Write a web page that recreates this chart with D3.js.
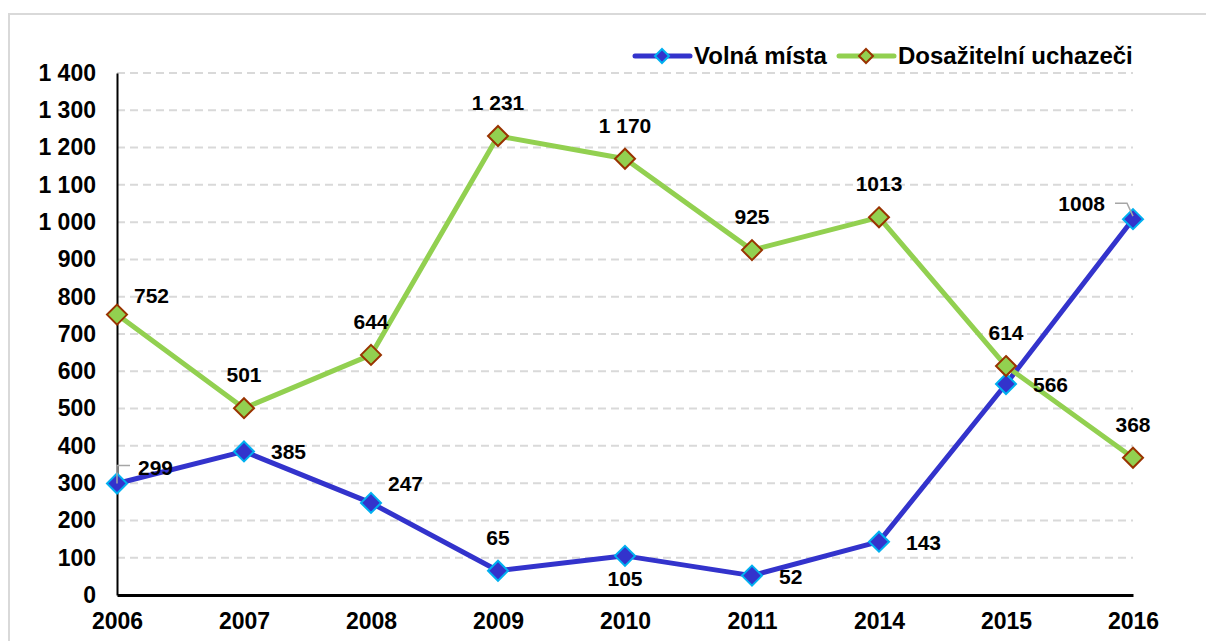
<!DOCTYPE html>
<html>
<head>
<meta charset="utf-8">
<script src="https://cdn.jsdelivr.net/npm/d3@7"></script>
<style>
  html, body { margin: 0; padding: 0; background: #fff; }
  svg { display: block; font-family: "Liberation Sans", Arial, sans-serif; }
</style>
</head>
<body>
<svg id="chart" width="1206" height="641"></svg>
<script>
// ---- data ----
const years = ["2006", "2007", "2008", "2009", "2010", "2011", "2014", "2015", "2016"];
const volnaMista = [299, 385, 247, 65, 105, 52, 143, 566, 1008];
const uchazeci = [752, 501, 644, 1231, 1170, 925, 1013, 614, 368];
const volnaLabels = ["299", "385", "247", "65", "105", "52", "143", "566", "1008"];
const uchazeciLabels = ["752", "501", "644", "1 231", "1 170", "925", "1013", "614", "368"];
const yTicks = [0, 100, 200, 300, 400, 500, 600, 700, 800, 900, 1000, 1100, 1200, 1300, 1400];
const yTickLabels = ["0", "100", "200", "300", "400", "500", "600", "700", "800", "900", "1 000", "1 100", "1 200", "1 300", "1 400"];
const seriesNames = ["Volná místa", "Dosažitelní uchazeči"];

// label placement (style, not data)
const volnaPos = ["leaderRight", "right", "aboveRight", "above", "below", "right", "right", "right", "leaderLeft"];
const uchazeciPos = ["aboveRight", "above", "above", "above", "above", "above", "above", "above", "above"];

(function () {
const svg = d3.select("#chart");
const W = 1206, H = 641;
const mLeft = 117, mRight = 1133, mTop = 73, mBottom = 595;

// outer frame
svg.append("rect").attr("x", 9).attr("y", 14).attr("width", W + 20).attr("height", H + 20)
  .attr("fill", "none").attr("stroke", "#d9d9d9").attr("stroke-width", 2);

const x = d3.scalePoint().domain(years).range([mLeft, mRight]);
const y = d3.scaleLinear().domain([0, 1400]).range([mBottom, mTop]);

// gridlines
svg.append("g").selectAll("line").data(yTicks.filter(d => d > 0)).join("line")
  .attr("x1", mLeft).attr("x2", mRight)
  .attr("y1", d => y(d)).attr("y2", d => y(d))
  .attr("stroke", "#d9d9d9").attr("stroke-width", 2).attr("stroke-dasharray", "8,5");

// y axis
const yAxis = d3.axisLeft(y).tickValues(yTicks).tickFormat((d, i) => yTickLabels[i]).tickSize(0).tickPadding(21);
const gy = svg.append("g").attr("transform", `translate(${mLeft},0)`).call(yAxis);
gy.select(".domain").attr("stroke", "#000").attr("stroke-width", 2);
gy.selectAll("text").attr("font-size", 23).attr("font-weight", "bold").attr("fill", "#000")
  .attr("font-family", "Liberation Sans, Arial, sans-serif");

// x axis
const xAxis = d3.axisBottom(x).tickSize(0).tickPadding(18);
const gx = svg.append("g").attr("transform", `translate(0,${mBottom})`).call(xAxis);
gx.select(".domain").attr("stroke", "#000").attr("stroke-width", 3);
gx.selectAll("text").attr("font-size", 23).attr("font-weight", "bold").attr("fill", "#000")
  .attr("font-family", "Liberation Sans, Arial, sans-serif");

const line = d3.line().x((d, i) => x(years[i])).y(d => y(d));
const diamond = r => `M0,${-r}L${r},0L0,${r}L${-r},0Z`;

function drawSeries(values, color, markerFill, markerStroke) {
  svg.append("path").datum(values).attr("d", line)
    .attr("fill", "none").attr("stroke", color).attr("stroke-width", 5).attr("stroke-linejoin", "round");
  svg.append("g").selectAll("path").data(values).join("path")
    .attr("transform", (d, i) => `translate(${x(years[i])},${y(d)})`)
    .attr("d", diamond(10))
    .attr("fill", markerFill).attr("stroke", markerStroke).attr("stroke-width", 2);
}

drawSeries(volnaMista, "#3333cc", "#3333cc", "#00b0f0");
drawSeries(uchazeci, "#92d050", "#92d050", "#993300");

function drawLabels(values, labels, pos) {
  const g = svg.append("g");
  values.forEach((v, i) => {
    const px = x(years[i]), py = y(v);
    let tx = px, ty = py, anchor = "middle";
    if (pos[i] === "above") { ty = py - 26; }
    else if (pos[i] === "below") { ty = py + 30; }
    else if (pos[i] === "right") { tx = px + 27; ty = py + 8; anchor = "start"; }
    else if (pos[i] === "aboveRight") { tx = px + 17; ty = py - 12; anchor = "start"; }
    else if (pos[i] === "leaderRight") {
      g.append("polyline").attr("points", `${px},${py} ${px},${py - 18} ${px + 13},${py - 18}`)
        .attr("fill", "none").attr("stroke", "#a6a6a6").attr("stroke-width", 1.5);
      tx = px + 21; ty = py - 9; anchor = "start";
    } else if (pos[i] === "leaderLeft") {
      g.append("polyline").attr("points", `${px},${py - 3} ${px - 6},${py - 16} ${px - 18},${py - 16}`)
        .attr("fill", "none").attr("stroke", "#a6a6a6").attr("stroke-width", 1.5);
      tx = px - 28; ty = py - 8; anchor = "end";
    }
    g.append("text").attr("x", tx).attr("y", ty).attr("text-anchor", anchor)
      .attr("font-size", 21).attr("font-weight", "bold").attr("fill", "#000")
      .text(labels[i]);
  });
}
drawLabels(volnaMista, volnaLabels, volnaPos);
drawLabels(uchazeci, uchazeciLabels, uchazeciPos);

// legend
const legend = svg.append("g");
const legendItems = [
  { name: seriesNames[0], x: 635, color: "#3333cc", fill: "#3333cc", stroke: "#00b0f0" },
  { name: seriesNames[1], x: 839, color: "#92d050", fill: "#92d050", stroke: "#993300" }
];
legendItems.forEach(it => {
  legend.append("line").attr("x1", it.x).attr("x2", it.x + 55).attr("y1", 56).attr("y2", 56)
    .attr("stroke", it.color).attr("stroke-width", 5).attr("stroke-linecap", "round");
  legend.append("path").attr("transform", `translate(${it.x + 27},56)`).attr("d", diamond(7))
    .attr("fill", it.fill).attr("stroke", it.stroke).attr("stroke-width", 2);
  legend.append("text").attr("x", it.x + 59).attr("y", 64).attr("font-size", 24)
    .attr("font-weight", "bold").attr("fill", "#000").text(it.name);
});
})();
</script>
</body>
</html>
